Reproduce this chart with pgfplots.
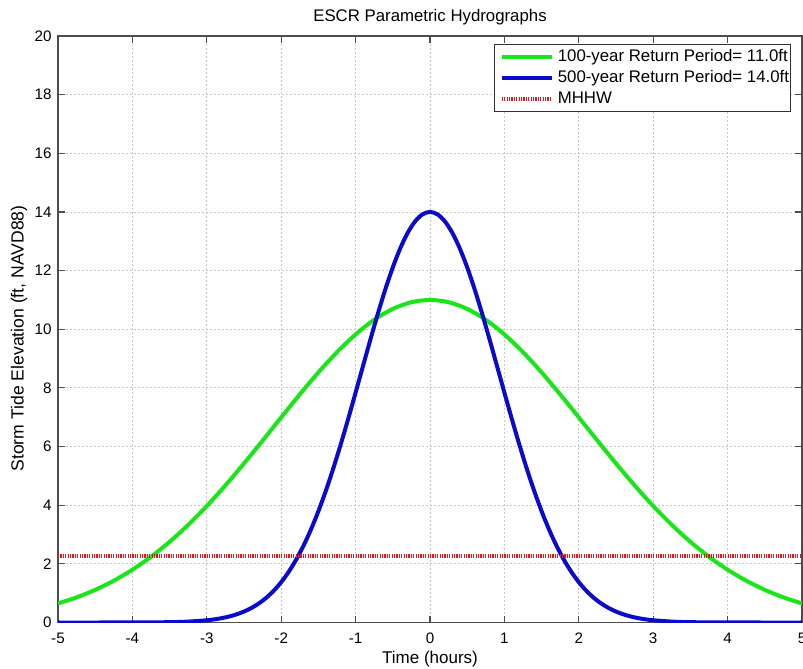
\documentclass[border=0pt]{standalone}
\usepackage{fontspec}
\setmainfont{Liberation Sans}
\usepackage{pgfplots}
\usepackage{pgfplotstable}
\pgfplotsset{compat=1.18}
\definecolor{mgreen}{RGB}{25,230,25}
\definecolor{mblue}{RGB}{10,10,205}
\definecolor{mred}{RGB}{235,20,20}
\pgfplotstableread{
x y
-5.00 0.650
-4.75 0.856
-4.50 1.113
-4.25 1.425
-4.00 1.800
-3.75 2.241
-3.50 2.751
-3.25 3.329
-3.00 3.973
-2.75 4.675
-2.50 5.423
-2.25 6.203
-2.00 6.996
-1.75 7.778
-1.50 8.528
-1.25 9.218
-1.00 9.823
-0.75 10.322
-0.50 10.693
-0.25 10.922
0.00 11.000
0.25 10.922
0.50 10.693
0.75 10.322
1.00 9.823
1.25 9.218
1.50 8.528
1.75 7.778
2.00 6.996
2.25 6.203
2.50 5.423
2.75 4.675
3.00 3.973
3.25 3.329
3.50 2.751
3.75 2.241
4.00 1.800
4.25 1.425
4.50 1.113
4.75 0.856
5.00 0.650
}\greendata
\pgfplotstableread{
x y
-5.00 0.000
-4.00 0.001
-3.50 0.011
-3.25 0.031
-3.00 0.076
-2.90 0.107
-2.80 0.148
-2.70 0.204
-2.60 0.278
-2.50 0.373
-2.40 0.496
-2.30 0.651
-2.20 0.845
-2.10 1.085
-2.00 1.376
-1.90 1.725
-1.80 2.138
-1.70 2.619
-1.60 3.171
-1.50 3.796
-1.40 4.492
-1.30 5.254
-1.20 6.073
-1.10 6.940
-1.00 7.839
-0.90 8.751
-0.80 9.659
-0.70 10.537
-0.60 11.362
-0.50 12.110
-0.40 12.759
-0.30 13.288
-0.20 13.679
-0.10 13.919
0.00 14.000
0.10 13.919
0.20 13.679
0.30 13.288
0.40 12.759
0.50 12.110
0.60 11.362
0.70 10.537
0.80 9.659
0.90 8.751
1.00 7.839
1.10 6.940
1.20 6.073
1.30 5.254
1.40 4.492
1.50 3.796
1.60 3.171
1.70 2.619
1.80 2.138
1.90 1.725
2.00 1.376
2.10 1.085
2.20 0.845
2.30 0.651
2.40 0.496
2.50 0.373
2.60 0.278
2.70 0.204
2.80 0.148
2.90 0.107
3.00 0.076
3.25 0.031
3.50 0.011
4.00 0.001
5.00 0.000
}\bluedata
\begin{document}
\begin{tikzpicture}
\begin{axis}[
  at={(0,0)}, anchor=south west,
  scale only axis, width=372pt, height=293.25pt,
  xmin=-5, xmax=5, ymin=0, ymax=20,
  xtick={-5,-4,...,5}, ytick={0,2,...,20},
  tick align=inside, major tick length=3.3pt,
  grid=major,
  grid style={black!22, dash pattern=on 1pt off 1pt, line width=0.4pt},
  axis line style={black!70, line width=0.6pt},
  tick style={black!70, line width=0.6pt},
  ticklabel style={font=\fontsize{7.6}{9}\selectfont},
  xticklabel style={anchor=north, inner sep=0pt, yshift=-5pt},
  yticklabel style={anchor=east, inner sep=0pt, xshift=-3pt},
  /pgf/number format/assume math mode=true,
  legend cell align=left,
  legend image code/.code={\path[draw=none] (0pt,0pt) -- (31pt,0pt);\draw[#1] (3.5pt,0pt) -- (28.5pt,0pt);},
  legend style={at={(1,1)}, anchor=north east, xshift=-5.5pt, yshift=-4pt,
    draw=black!80, line width=0.5pt, fill=white,
    font=\fontsize{8.4}{10}\selectfont,
    inner xsep=0.25pt, inner ysep=1pt,
    nodes={text height=6.2pt, text depth=2pt, inner ysep=1.15pt, inner xsep=0.5pt},
    row sep=0pt},
]
\addplot[mgreen, line width=2pt, smooth] table[x=x, y=y] {\greendata};
\addlegendentry{100-year Return Period= 11.0ft}
\addplot[mblue, line width=2pt, smooth] table[x=x, y=y] {\bluedata};
\addlegendentry{500-year Return Period= 14.0ft}
\addplot[mred, line width=2pt, dash pattern=on 0.6pt off 0.6pt] coordinates {(-5,2.28) (5,2.28)};
\addlegendentry{MHHW}
\end{axis}
\node[font=\fontsize{8.4}{10}\selectfont] at (186pt,302.75pt) {ESCR Parametric Hydrographs};
\node[font=\fontsize{8.5}{10}\selectfont] at (186pt,-18.25pt) {Time (hours)};
\node[font=\fontsize{8.8}{10}\selectfont, rotate=90] at (-19.5pt,142pt) {Storm Tide Elevation (ft, NAVD88)};
\pgfresetboundingbox
\path[use as bounding box] (-29pt,-23.25pt) rectangle (372.5pt,311.25pt);
\end{tikzpicture}
\end{document}
